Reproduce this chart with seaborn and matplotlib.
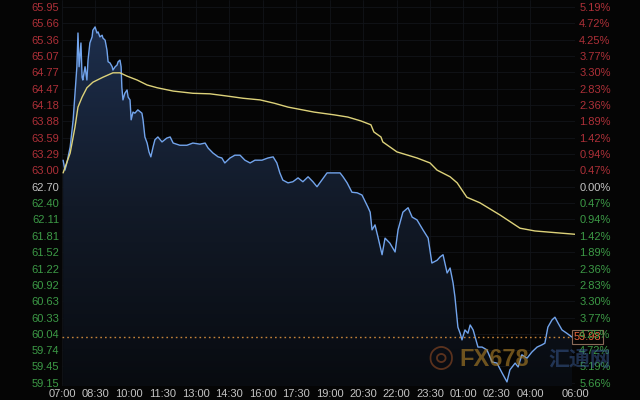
import matplotlib
matplotlib.use('Agg')
import matplotlib.pyplot as plt
from matplotlib.colors import LinearSegmentedColormap
import numpy as np
import pandas as pd
import seaborn as sns

# minutes after 07:00 and price of the blue (price) line
price_min = [3, 8, 13, 22, 30, 35, 40, 43, 46, 51, 54, 56, 62, 67, 70, 75, 81, 83, 89, 94,
             97, 102, 108, 110, 116, 121, 124, 129, 135, 137, 143, 148, 151, 156, 159, 161, 164, 169, 175, 178,
             183, 186, 191, 196, 204, 215, 218, 223, 229, 234, 239, 245, 250, 258, 269, 282, 291, 299, 317, 336,
             352, 371, 385, 393, 406, 420, 430, 438, 452, 465, 479, 492, 506, 519, 538, 554, 568, 578, 586, 594,
             608, 621, 635, 648, 662, 675, 686, 699, 713, 729, 748, 756, 767, 780, 794, 807, 823, 829, 834, 842,
             850, 861, 869, 882, 896, 904, 917, 931, 942, 955, 971, 985, 995, 1009, 1017, 1025, 1036, 1044, 1052, 1057,
             1065, 1071, 1076, 1084, 1092, 1098, 1106, 1119, 1130, 1143, 1157, 1170, 1184, 1197, 1205, 1219, 1227, 1237, 1251, 1264,
             1278, 1291, 1299, 1307, 1318, 1326, 1334, 1345, 1358, 1372]
price_val = [63.18, 63.00, 63.13, 63.42, 63.91, 64.39, 64.87, 65.48, 64.87, 65.30, 64.68, 64.63, 64.87, 64.63, 64.99, 65.30, 65.41, 65.53, 65.59, 65.48,
             65.50, 65.41, 65.44, 65.39, 65.35, 65.17, 64.96, 64.94, 64.87, 64.81, 64.87, 64.90, 64.96, 64.99, 64.87, 64.50, 64.27, 64.39, 64.45, 64.32,
             64.27, 63.91, 64.05, 64.03, 64.09, 64.03, 63.91, 63.60, 63.49, 63.33, 63.24, 63.42, 63.55, 63.60, 63.51, 63.58, 63.60, 63.49, 63.45, 63.45,
             63.49, 63.47, 63.49, 63.40, 63.31, 63.24, 63.22, 63.13, 63.22, 63.27, 63.27, 63.18, 63.13, 63.18, 63.18, 63.22, 63.24, 63.13, 62.95, 62.82,
             62.77, 62.79, 62.86, 62.79, 62.88, 62.79, 62.70, 62.82, 62.95, 62.95, 62.95, 62.88, 62.77, 62.60, 62.59, 62.55, 62.33, 62.24, 61.92, 62.01,
             61.79, 61.47, 61.77, 61.68, 61.52, 61.92, 62.24, 62.32, 62.15, 62.10, 61.92, 61.77, 61.32, 61.37, 61.43, 61.47, 61.14, 61.23, 60.96, 60.71,
             60.16, 60.05, 59.93, 60.11, 60.05, 60.20, 60.11, 59.80, 59.80, 59.75, 59.53, 59.51, 59.33, 59.17, 59.39, 59.51, 59.44, 59.66, 59.60, 59.71,
             59.80, 59.84, 59.87, 60.16, 60.29, 60.34, 60.24, 60.11, 60.05, 59.98]

# average line
avg_min = [3, 22, 35, 43, 54, 67, 83, 110, 137, 156, 175, 202, 229, 256, 299, 352, 398, 444, 487, 533,
           571, 608, 678, 732, 769, 804, 831, 839, 858, 863, 901, 955, 990, 1009, 1044, 1063, 1089, 1124, 1178, 1232,
           1272, 1380]
avg_val = [62.95, 63.31, 63.78, 64.14, 64.32, 64.49, 64.59, 64.68, 64.76, 64.76, 64.70, 64.63, 64.54, 64.49, 64.43, 64.39, 64.38, 64.34, 64.30, 64.27,
           64.21, 64.14, 64.05, 64.00, 63.96, 63.89, 63.82, 63.69, 63.60, 63.51, 63.33, 63.22, 63.13, 63.00, 62.88, 62.77, 62.51, 62.41, 62.19, 61.95,
           61.90, 61.84]

last_price = 59.98
base_price = 62.70

y_ticks = [65.95, 65.66, 65.36, 65.07, 64.77, 64.47, 64.18, 63.88, 63.59, 63.29, 63.00, 62.70,
           62.40, 62.11, 61.81, 61.52, 61.22, 60.92, 60.63, 60.33, 60.04, 59.74, 59.45, 59.15]
pct_labels = ['5.19%', '4.72%', '4.25%', '3.77%', '3.30%', '2.83%', '2.36%', '1.89%', '1.42%', '0.94%', '0.47%', '0.00%',
              '0.47%', '0.94%', '1.42%', '1.89%', '2.36%', '2.83%', '3.30%', '3.77%', '4.25%', '4.72%', '5.19%', '5.66%']
x_ticks = [0, 90, 180, 270, 360, 450, 540, 630, 720, 810, 900, 990, 1080, 1170, 1260, 1380]
x_labels = ['07:00', '08:30', '10:00', '11:30', '13:00', '14:30', '16:00', '17:30', '19:00', '20:30',
            '22:00', '23:30', '01:00', '02:30', '04:00', '06:00']

BG = '#050505'
RED = '#ad3038'
GREEN = '#3c9a46'
GREY = '#c4c4c4'

sns.set_style('dark', {'axes.facecolor': BG, 'figure.facecolor': BG})
plt.rcParams['font.family'] = ['Liberation Sans', 'Noto Sans CJK SC', 'DejaVu Sans']

fig = plt.figure(figsize=(6.4, 4), dpi=100)
ax = fig.add_axes([62 / 640, 14 / 400, 513 / 640, 386 / 400])
ax.set_facecolor(BG)

ylo, yhi = 59.096, 66.077
ax.set_xlim(0, 1380)
ax.set_ylim(ylo, yhi)

price_df = pd.DataFrame({'t': price_min, 'p': price_val})
avg_df = pd.DataFrame({'t': avg_min, 'p': avg_val})

# faint grid
for yt in y_ticks:
    ax.axhline(yt, color='#111419', lw=0.6, zorder=0)
for xt in x_ticks:
    ax.axvline(xt, color='#111419', lw=0.6, zorder=0)

# gradient fill under price
poly = ax.fill_between(price_df['t'], price_df['p'], ylo, color='none', lw=0)
cmap = LinearSegmentedColormap.from_list('g', ['#080b10', '#121a28', '#1d2e4c'])
grad = np.linspace(0, 1, 256).reshape(-1, 1)
im = ax.imshow(grad, extent=[0, 1380, ylo, max(price_val)], origin='lower', aspect='auto',
               cmap=cmap, zorder=1)
im.set_clip_path(poly.get_paths()[0], transform=ax.transData)

sns.lineplot(data=price_df, x='t', y='p', ax=ax, color='#72a4ec', lw=1.0, zorder=3)
sns.lineplot(data=avg_df, x='t', y='p', ax=ax, color='#ddd27a', lw=1.0, zorder=4)

ax.axhline(last_price, xmin=0.0, xmax=0.99, color='#c5843a', lw=1.0, ls=(0, (1.2, 2.2)), zorder=5)

# watermark
fig.text(441 / 640, 1 - 358 / 400, '◎', fontsize=22, color='#c0602a', alpha=0.45,
         ha='center', va='center', family=['DejaVu Sans'], zorder=6)
fig.text(459 / 640, 1 - 359 / 400, 'FX678', fontsize=17, fontweight='bold', color='#a67a26',
         alpha=0.65, ha='left', va='center', zorder=6)
fig.text(548 / 640, 1 - 359 / 400, '汇通网', fontsize=15, fontweight='bold', color='#3a5c96',
         alpha=0.5, ha='left', va='center', family=['Noto Sans CJK SC', 'DejaVu Sans'], zorder=6)

ax.annotate(f'{last_price:.2f}', xy=(1380, last_price), xytext=(-1, 0), textcoords='offset points',
            ha='left', va='center', color='#e8663c', fontsize=8, annotation_clip=False,
            bbox=dict(boxstyle='square,pad=0.15', fc=BG, ec='#8a6a58', lw=0.8), zorder=7)

ax.set_xlabel('')
ax.set_ylabel('')
ax.set_yticks(y_ticks)
ax.set_yticklabels([f'{v:.2f}' for v in y_ticks], fontsize=8)
for lab, v in zip(ax.get_yticklabels(), y_ticks):
    lab.set_color(RED if v > base_price else (GREEN if v < base_price else GREY))
ax.set_xticks(x_ticks)
ax.set_xticklabels(x_labels, fontsize=8, color=GREY)
ax.tick_params(axis='both', length=0)
ax.tick_params(axis='y', pad=2)
ax.tick_params(axis='x', pad=2)
ax.grid(False)
for s in ax.spines.values():
    s.set_visible(False)

ax2 = ax.twinx()
ax2.set_ylim(ylo, yhi)
ax2.set_yticks(y_ticks)
ax2.set_yticklabels(pct_labels, fontsize=8)
for lab, v in zip(ax2.get_yticklabels(), y_ticks):
    lab.set_color(RED if v > base_price else (GREEN if v < base_price else GREY))
ax2.tick_params(axis='y', length=0, pad=3)
ax2.grid(False)
for s in ax2.spines.values():
    s.set_visible(False)

fig.savefig('out.png', dpi=100, facecolor=BG)
